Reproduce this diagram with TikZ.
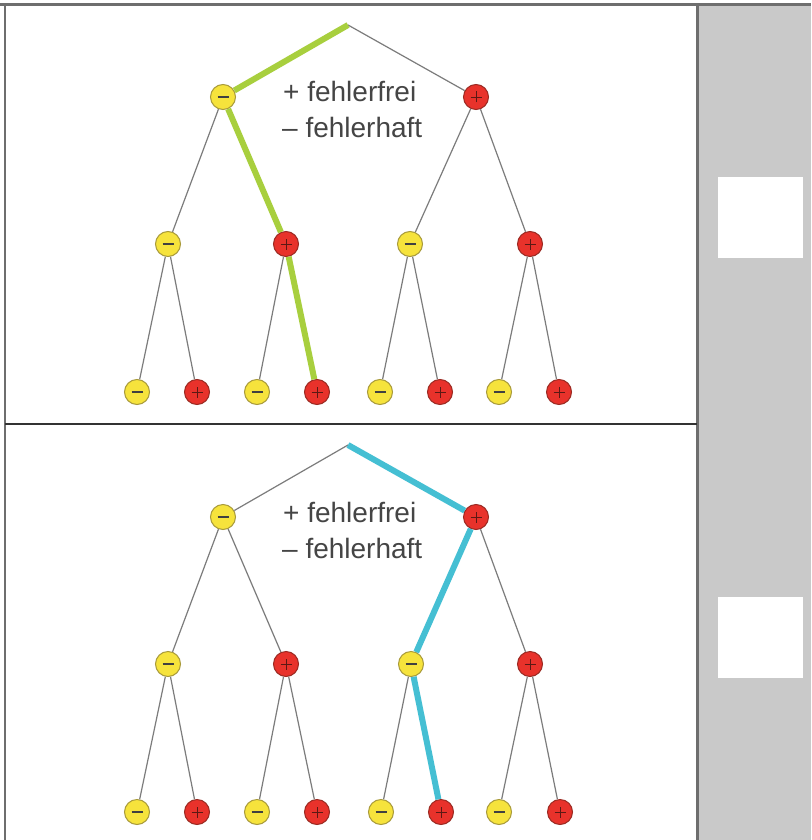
\documentclass[tikz,border=0pt]{standalone}
\usepackage{fontspec}
\setmainfont{Liberation Sans}
\definecolor{yel}{HTML}{F6E33C}
\definecolor{yelb}{HTML}{A89A3A}
\definecolor{red1}{HTML}{E8322B}
\definecolor{redb}{HTML}{9A2A22}
\definecolor{grn}{HTML}{A8CF3E}
\definecolor{blu}{HTML}{45BFD3}
\definecolor{edgec}{HTML}{7C7C7C}
\definecolor{panel}{HTML}{C9C9C9}
\definecolor{frame}{HTML}{6E6E6E}
\definecolor{txt}{HTML}{454545}
\tikzset{
  ye/.style={circle, draw=yelb, fill=yel, line width=1pt, minimum size=25pt, inner sep=0pt,
    path picture={\draw[line width=1.3pt, black!75] ([xshift=-5.5pt]path picture bounding box.center) -- ([xshift=5.5pt]path picture bounding box.center);}},
  re/.style={circle, draw=redb, fill=red1, line width=1pt, minimum size=25pt, inner sep=0pt,
    path picture={\draw[line width=0.9pt, redb!60!black] ([xshift=-5.5pt]path picture bounding box.center) -- ([xshift=5.5pt]path picture bounding box.center) ([yshift=-5.5pt]path picture bounding box.center) -- ([yshift=5.5pt]path picture bounding box.center);}},
  edge/.style={draw=edgec, line width=1.2pt},
  hlg/.style={draw=grn, line width=6pt},
  hlb/.style={draw=blu, line width=6pt},
  legend/.style={anchor=base west, text=txt, font=\fontsize{28}{34}\selectfont, inner sep=0pt},
  whitebox/.style={fill=white, draw=none}
}
\begin{document}
\begin{tikzpicture}[x=1pt,y=-1pt]
\useasboundingbox (0,0) rectangle (811,840);
\fill[white] (0,0) rectangle (811,840);
% grey side panel
\fill[panel] (697,5) rectangle (811,840);
\node[whitebox, minimum width=85pt, minimum height=81pt, inner sep=0pt] (sq1) at (760.5,217.5) {};
\node[whitebox, minimum width=85pt, minimum height=81pt, inner sep=0pt] (sq2) at (760.5,637.5) {};
% frame
\draw[frame, line width=3pt] (0,5) -- (811,5);
\draw[frame, line width=2.5pt] (5,5) -- (5,840);
\draw[frame, line width=3pt] (697,5) -- (697,840);
\draw[black!80, line width=2pt] (5,424) -- (697,424);

% ---------- top tree ----------
\coordinate (tR) at (348,25);
\node[ye] (tA) at (223,97) {};
\node[re] (tB) at (476,97) {};
\node[ye] (tAA) at (168,244) {};
\node[re] (tAB) at (286,244) {};
\node[ye] (tBA) at (410,244) {};
\node[re] (tBB) at (530,244) {};
\node[ye] (t1) at (137,392) {};
\node[re] (t2) at (197,392) {};
\node[ye] (t3) at (257,392) {};
\node[re] (t4) at (317,392) {};
\node[ye] (t5) at (380,392) {};
\node[re] (t6) at (440,392) {};
\node[ye] (t7) at (499,392) {};
\node[re] (t8) at (559,392) {};
\draw[edge] (tR) -- (tB);
\draw[edge] (tA) -- (tAA);
\draw[edge] (tB) -- (tBA);
\draw[edge] (tB) -- (tBB);
\draw[edge] (tAA) -- (t1); \draw[edge] (tAA) -- (t2);
\draw[edge] (tAB) -- (t3);
\draw[edge] (tBA) -- (t5); \draw[edge] (tBA) -- (t6);
\draw[edge] (tBB) -- (t7); \draw[edge] (tBB) -- (t8);
\draw[hlg] (tR) -- (tA);
\draw[hlg] (tA) -- (tAB);
\draw[hlg] (tAB) -- (t4);
\node[legend] (tl1) at (283,102) {+ fehlerfrei};
\node[legend] (tl2) at (282,138) {– fehlerhaft};

% ---------- bottom tree ----------
\coordinate (bR) at (348,445);
\node[ye] (bA) at (223,517) {};
\node[re] (bB) at (476,517) {};
\node[ye] (bAA) at (168,664) {};
\node[re] (bAB) at (286,664) {};
\node[ye] (bBA) at (411,664) {};
\node[re] (bBB) at (530,664) {};
\node[ye] (b1) at (137,812) {};
\node[re] (b2) at (197,812) {};
\node[ye] (b3) at (257,812) {};
\node[re] (b4) at (317,812) {};
\node[ye] (b5) at (381,812) {};
\node[re] (b6) at (441,812) {};
\node[ye] (b7) at (499,812) {};
\node[re] (b8) at (560,812) {};
\draw[edge] (bR) -- (bA);
\draw[edge] (bA) -- (bAA);
\draw[edge] (bA) -- (bAB);
\draw[edge] (bB) -- (bBB);
\draw[edge] (bAA) -- (b1); \draw[edge] (bAA) -- (b2);
\draw[edge] (bAB) -- (b3); \draw[edge] (bAB) -- (b4);
\draw[edge] (bBA) -- (b5);
\draw[edge] (bBB) -- (b7); \draw[edge] (bBB) -- (b8);
\draw[hlb] (bR) -- (bB);
\draw[hlb] (bB) -- (bBA);
\draw[hlb] (bBA) -- (b6);
\node[legend] (bl1) at (283,522) {+ fehlerfrei};
\node[legend] (bl2) at (282,558) {– fehlerhaft};
\end{tikzpicture}
\end{document}
